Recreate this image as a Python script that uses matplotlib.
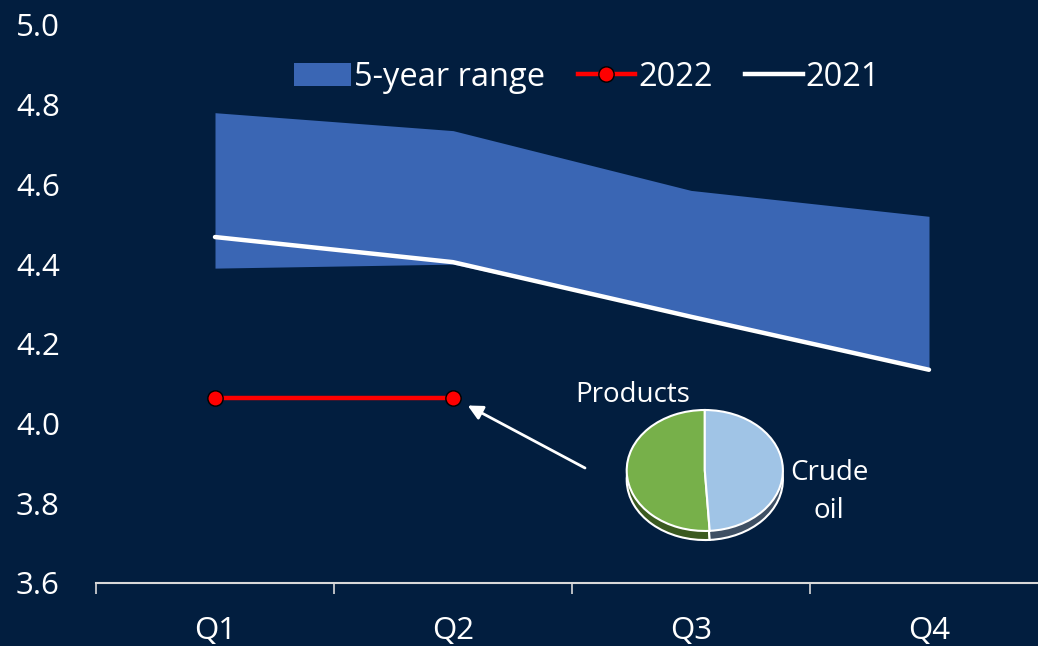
import matplotlib
matplotlib.use('Agg')
import matplotlib.pyplot as plt
from matplotlib.patches import Patch
from matplotlib.lines import Line2D
import numpy as np

quarters = ['Q1', 'Q2', 'Q3', 'Q4']
range_low = [4.39, 4.40, 4.27, 4.14]
range_high = [4.78, 4.735, 4.585, 4.52]
y2021 = [4.468, 4.405, 4.268, 4.135]
y2022 = [4.065, 4.065]
pie_labels = ['Products', 'Crude\noil']
pie_shares = [51, 49]

bg = '#021e3f'
plt.rcParams['font.family'] = ['Open Sans', 'DejaVu Sans']

fig = plt.figure(figsize=(10.38, 6.46), dpi=100, facecolor=bg)
ax = fig.add_axes([96/1038, 63/646, 952/1038, 558/646], facecolor=bg)

x = np.arange(len(quarters))
ax.fill_between(x, range_low, range_high, color='#3a66b4', lw=0, zorder=1)
ax.plot(x, y2021, color='white', lw=3.2, solid_capstyle='round', zorder=2)
ax.plot(x[:len(y2022)], y2022, color='#ff0000', lw=3.2, marker='o', ms=11,
        mfc='#ff0000', mec='black', mew=1, zorder=3)

ax.set_xlim(-0.5, 3.5)
ax.set_ylim(3.6, 5.0)
ax.set_yticks(np.arange(3.6, 5.01, 0.2))
ax.set_yticklabels([f'{v:.1f}' for v in np.arange(3.6, 5.01, 0.2)])
ax.set_xticks(x)
ax.set_xticklabels(quarters)
ax.set_xticks(np.arange(-0.5, 3.6, 1), minor=True)
ax.tick_params(axis='x', which='major', length=0, pad=24, labelsize=22.5, colors='white')
ax.tick_params(axis='x', which='minor', length=8, width=1.2, color='#d9d9d9')
ax.tick_params(axis='y', length=0, pad=26, labelsize=22.5, colors='white')
for s in ['top', 'right', 'left']:
    ax.spines[s].set_visible(False)
ax.spines['bottom'].set_color('#d9d9d9')
ax.spines['bottom'].set_linewidth(1.5)

handles = [Patch(facecolor='#3a66b4', edgecolor='none'),
           Line2D([], [], color='#ff0000', lw=3.2, marker='o', ms=11, mfc='#ff0000', mec='black'),
           Line2D([], [], color='white', lw=3.2)]
fig.legend(handles, ['5-year range', '2022', '2021'], ncol=3, frameon=False,
           loc='center', bbox_to_anchor=(587/1038, 1 - 77/646), fontsize=23.5,
           handlelength=1.75, handletextpad=0.1, columnspacing=1.0, labelcolor='white')

# arrow pointing from pie to 2022 Q2 point
ax.annotate('', xy=(1, y2022[1]), xytext=(585, 646 - 468), textcoords='figure pixels',
            arrowprops=dict(arrowstyle='-|>', color='white', lw=2, mutation_scale=22,
                            shrinkA=0, shrinkB=12))

# pie inset with a simple 3-d look
pax = fig.add_axes([0.600, 0.150, 0.158, 0.22])
pax.set_facecolor('none')
pax.pie(pie_shares, colors=['#3b5a20', '#3f5064'], startangle=90, center=(0, -0.15),
        wedgeprops=dict(edgecolor='white', lw=1.5))
pax.pie(pie_shares, colors=['#77b04a', '#a0c4e6'], startangle=90,
        wedgeprops=dict(edgecolor='white', lw=1.5))
pax.set_aspect('auto')
pax.set_xlim(-1.05, 1.05)
pax.set_ylim(-1.3, 1.05)
pax.axis('off')

fig.text(633/1038, 1 - 395/646, pie_labels[0], color='white', fontsize=20, ha='center', va='center')
fig.text(829/1038, 1 - 492/646, pie_labels[1], color='white', fontsize=20, ha='center', va='center',
         linespacing=1.45)

fig.savefig('out.png', dpi=100, facecolor=bg)
